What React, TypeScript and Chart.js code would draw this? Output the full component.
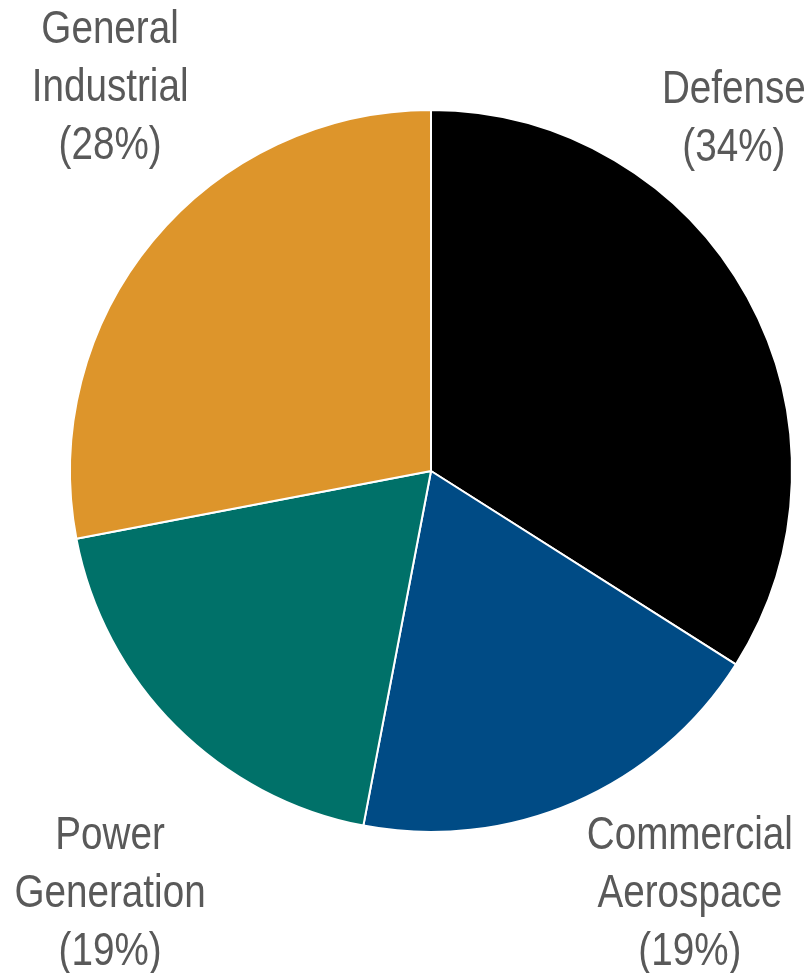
import React, { useEffect, useRef } from "react";
import { Chart, registerables } from "chart.js";

Chart.register(...registerables);

const categories = ["Defense", "Commercial Aerospace", "Power Generation", "General Industrial"];
const labelLines = [["Defense"], ["Commercial", "Aerospace"], ["Power", "Generation"], ["General", "Industrial"]];
const shares = [34, 19, 19, 28];
const colors = ["#000000", "#004B85", "#007169", "#DD952B"];

// label anchor: offset from pie centre in units of radius (x = text centre, y = first line middle)
const LABEL_LAYOUT = [
  { dx: 0.839, dy: -1.055 },
  { dx: 0.717, dy: 1.011 },
  { dx: -0.889, dy: 1.011 },
  { dx: -0.889, dy: -1.22 },
];
const FONT = '46px "Liberation Sans", Arial, sans-serif';
const NARROW = 0.84;
const LINE_H = 58;

const labelPlugin = {
  id: "outerLabels",
  afterDraw(chart: any) {
    const meta = chart.getDatasetMeta(0);
    const arc = meta.data[0];
    if (!arc) return;
    const { x: cx, y: cy, outerRadius: r } = arc.getProps(["x", "y", "outerRadius"], true);
    const ctx = chart.ctx;
    ctx.save();
    ctx.font = FONT;
    ctx.fillStyle = "#595959";
    ctx.textAlign = "center";
    ctx.textBaseline = "middle";
    labelLines.forEach((lines, i) => {
      const pos = LABEL_LAYOUT[i];
      const x = cx + pos.dx * r;
      let y = cy + pos.dy * r;
      const all = [...lines, `(${shares[i]}%)`];
      all.forEach((t) => {
        ctx.save();
        ctx.translate(x, y);
        ctx.scale(NARROW, 1);
        ctx.fillText(t, 0, 0);
        ctx.restore();
        y += LINE_H;
      });
    });
    ctx.restore();
  },
};

export default function App() {
  const ref = useRef<HTMLCanvasElement>(null);
  useEffect(() => {
    document.body.style.margin = "0";
    const chart = new Chart(ref.current!, {
      type: "pie",
      data: {
        labels: categories,
        datasets: [
          {
            data: shares,
            backgroundColor: colors,
            borderColor: "#ffffff",
            borderWidth: 2,
          },
        ],
      },
      options: {
        animation: false,
        responsive: false,
        layout: { padding: { left: 69, right: 19, top: 109, bottom: 140 } },
        plugins: { legend: { display: false }, tooltip: { enabled: false } },
      },
      plugins: [labelPlugin],
    });
    return () => chart.destroy();
  }, []);
  return (
    <div style={{ width: 812, height: 973 }}>
      <canvas ref={ref} width={812} height={973} style={{ width: 812, height: 973, display: "block" }} />
    </div>
  );
}
